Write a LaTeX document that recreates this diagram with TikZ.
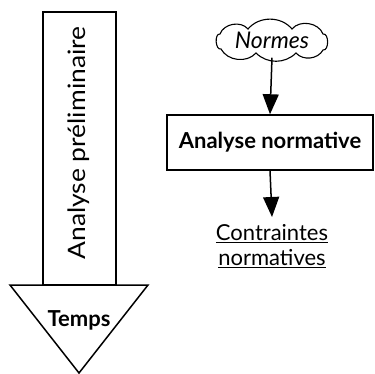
\documentclass[tikz,border=0pt]{standalone}
\usepackage{fontspec}
\setmainfont{Lato}
\usetikzlibrary{arrows.meta}
\begin{document}
\begin{tikzpicture}[x=1pt,y=-1pt,line width=1.5pt,
  txt/.style={font=\fontsize{22}{25}\selectfont},
  arr/.style={-{Triangle[width=16pt,length=20pt]}}]
\useasboundingbox (0,0) rectangle (374,374);
\draw (43,12) rectangle (116,285);
\node[font=\fontsize{24}{28}\selectfont,rotate=90,xscale=1.1,transform shape] (ap) at (79,143) {Analyse préliminaire};
\draw (10,285) -- (148,285) -- (79,373) -- cycle;
\node[font=\fontsize{22}{25}\selectfont\bfseries] (t) at (79,320) {Temps};
\draw[line width=1.1pt] (220,34) to[bend left=60] (248,29) to[bend left=50] (292,29)
  to[bend left=60] (323,34) to[bend left=100] (323,50) to[bend left=55] (296,53)
  to[bend left=45] (256,53) to[bend left=55] (221,49) to[bend left=100] cycle;
\node[font=\fontsize{23}{25}\selectfont\itshape,inner sep=0pt,minimum height=33pt] (n) at (272,40.5) {Normes};
\node[draw,minimum width=206pt,minimum height=55pt,font=\fontsize{22}{25}\selectfont\bfseries] (an) at (270,142.5) {Analyse normative};
\node[txt,align=center] (c) at (272,246) {\underline{Contraintes}\\\underline{normatives}};
\draw[arr] (n.south) -- (an.north);
\coordinate (e) at (272,217);
\draw[arr] (an.south) -- (e);
\end{tikzpicture}
\end{document}
